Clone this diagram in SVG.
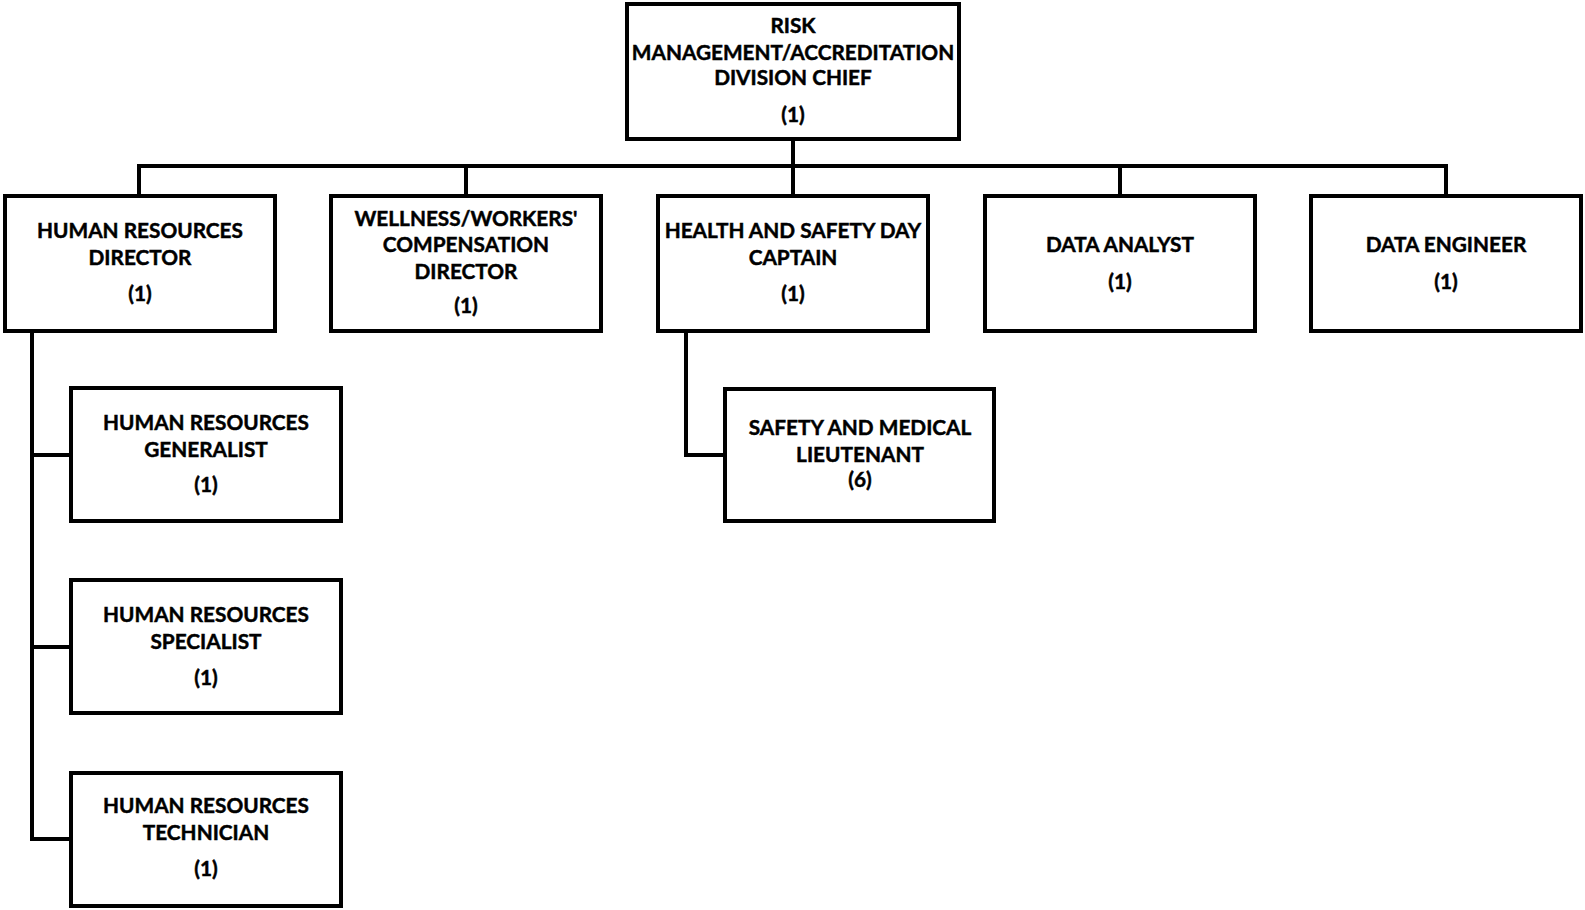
<svg xmlns="http://www.w3.org/2000/svg" width="1585" height="910" viewBox="0 0 1585 910">
<style>
.box{fill:#fff;stroke:#000;stroke-width:4}
.ln{fill:none;stroke:#000;stroke-width:4;stroke-linecap:square;stroke-linejoin:miter}
text{font-family:Lato,"Liberation Sans",sans-serif;font-weight:bold;font-size:20.8px;text-anchor:middle;fill:#000;stroke:#000;stroke-width:0.45}
</style>
<rect width="1585" height="910" fill="#fff"/>
<g id="connectors">
<polyline class="ln" points="793,141 793,166"/>
<polyline class="ln" points="139,166 1446,166"/>
<polyline class="ln" points="139,166 139,194"/>
<polyline class="ln" points="466,166 466,194"/>
<polyline class="ln" points="793,166 793,194"/>
<polyline class="ln" points="1120,166 1120,194"/>
<polyline class="ln" points="1446,166 1446,194"/>
<polyline class="ln" points="32,333 32,839 69,839"/>
<polyline class="ln" points="32,455 69,455"/>
<polyline class="ln" points="32,647 69,647"/>
<polyline class="ln" points="686,333 686,455 723,455"/>
</g>
<g id="chief">
<rect class="box" x="627" y="4" width="332" height="135"/>
<text x="793" y="33">RISK</text>
<text x="793" y="60">MANAGEMENT/ACCREDITATION</text>
<text x="793" y="85">DIVISION CHIEF</text>
<text x="793" y="122">(1)</text>
</g>
<g id="hr-director">
<rect class="box" x="5" y="196" width="270" height="135"/>
<text x="140" y="238">HUMAN RESOURCES</text>
<text x="140" y="265">DIRECTOR</text>
<text x="140" y="301">(1)</text>
</g>
<g id="wellness">
<rect class="box" x="331" y="196" width="270" height="135"/>
<text x="466" y="226">WELLNESS/WORKERS'</text>
<text x="466" y="252">COMPENSATION</text>
<text x="466" y="279">DIRECTOR</text>
<text x="466" y="313">(1)</text>
</g>
<g id="health-safety">
<rect class="box" x="658" y="196" width="270" height="135"/>
<text x="793" y="238">HEALTH AND SAFETY DAY</text>
<text x="793" y="265">CAPTAIN</text>
<text x="793" y="301">(1)</text>
</g>
<g id="data-analyst">
<rect class="box" x="985" y="196" width="270" height="135"/>
<text x="1120" y="252">DATA ANALYST</text>
<text x="1120" y="289">(1)</text>
</g>
<g id="data-engineer">
<rect class="box" x="1311" y="196" width="270" height="135"/>
<text x="1446" y="252">DATA ENGINEER</text>
<text x="1446" y="289">(1)</text>
</g>
<g id="hr-generalist">
<rect class="box" x="71" y="388" width="270" height="133"/>
<text x="206" y="430">HUMAN RESOURCES</text>
<text x="206" y="457">GENERALIST</text>
<text x="206" y="492">(1)</text>
</g>
<g id="hr-specialist">
<rect class="box" x="71" y="580" width="270" height="133"/>
<text x="206" y="622">HUMAN RESOURCES</text>
<text x="206" y="649">SPECIALIST</text>
<text x="206" y="685">(1)</text>
</g>
<g id="hr-technician">
<rect class="box" x="71" y="773" width="270" height="133"/>
<text x="206" y="813">HUMAN RESOURCES</text>
<text x="206" y="840">TECHNICIAN</text>
<text x="206" y="876">(1)</text>
</g>
<g id="safety-lieutenant">
<rect class="box" x="725" y="389" width="269" height="132"/>
<text x="860" y="435">SAFETY AND MEDICAL</text>
<text x="860" y="462">LIEUTENANT</text>
<text x="860" y="487">(6)</text>
</g>
</svg>
